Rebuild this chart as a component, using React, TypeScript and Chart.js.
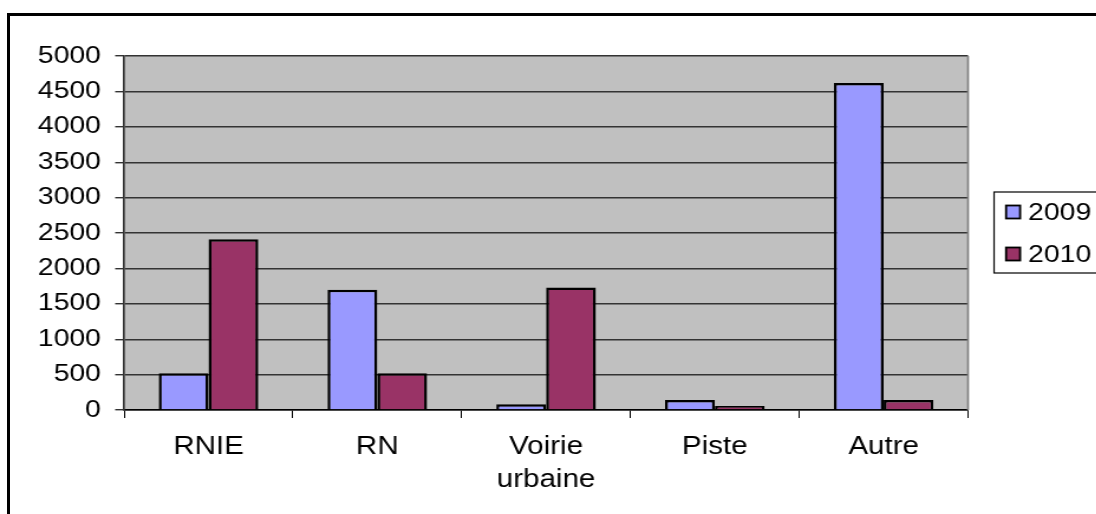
import { useEffect, useRef } from "react";
import { Chart, registerables } from "chart.js";

Chart.register(...registerables);

const categories: (string | string[])[] = ["RNIE", "RN", ["Voirie", "urbaine"], "Piste", "Autre"];
const values2009 = [520, 1700, 80, 140, 4620];
const values2010 = [2410, 520, 1730, 55, 140];
const seriesNames = ["2009", "2010"];
const seriesColors = ["#9999FF", "#993366"];
const yMin = 0;
const yMax = 5000;
const yStep = 500;

const S = 1.18; // horizontal text stretch of the original picture
const W = 1096 / S;
const FONT = "'Liberation Sans', Arial, sans-serif";

export default function App() {
  const ref = useRef<HTMLCanvasElement>(null);

  useEffect(() => {
    if (!ref.current) return;

    const bgPlugin = {
      id: "plotBg",
      beforeDraw(chart: any) {
        const { ctx, chartArea: a } = chart;
        ctx.save();
        ctx.fillStyle = "#C0C0C0";
        ctx.fillRect(a.left, a.top, a.right - a.left, a.bottom - a.top);
        ctx.restore();
      },
      afterDraw(chart: any) {
        const { ctx, chartArea: a } = chart;
        ctx.save();
        ctx.strokeStyle = "#808080";
        ctx.lineWidth = 2 / S;
        ctx.beginPath();
        ctx.moveTo(a.right, a.top);
        ctx.lineTo(a.right, a.bottom);
        ctx.stroke();

        // legend
        const bx = 993 / S;
        const by = 192;
        const bb = 273;
        ctx.strokeStyle = "#000";
        ctx.lineWidth = 1.2;
        ctx.strokeRect(bx, by, W + 10 - bx, bb - by);
        const rows = [212, 254];
        chart.data.datasets.forEach((ds: any, i: number) => {
          const cy = rows[i];
          const sx = 1005 / S;
          const sw = 14 / S;
          const sh = 13;
          ctx.fillStyle = ds.backgroundColor;
          ctx.fillRect(sx, cy - sh / 2, sw, sh);
          ctx.strokeStyle = "#000";
          ctx.lineWidth = 1.8;
          ctx.strokeRect(sx, cy - sh / 2, sw, sh);
          ctx.fillStyle = "#000";
          ctx.font = `24px ${FONT}`;
          ctx.textBaseline = "middle";
          ctx.textAlign = "left";
          ctx.fillText(ds.label, 1027 / S, cy + 1);
        });
        ctx.restore();
      },
    };

    const chart = new Chart(ref.current, {
      type: "bar",
      data: {
        labels: categories,
        datasets: [
          {
            label: seriesNames[0],
            data: values2009,
            backgroundColor: seriesColors[0],
            borderColor: "#000",
            borderWidth: 2.5,
          },
          {
            label: seriesNames[1],
            data: values2010,
            backgroundColor: seriesColors[1],
            borderColor: "#000",
            borderWidth: 2.5,
          },
        ],
      },
      options: {
        animation: false,
        responsive: true,
        maintainAspectRatio: false,
        layout: { padding: { left: 0, right: W - 967 / S, top: 56, bottom: 0 } },
        datasets: { bar: { categoryPercentage: 0.59, barPercentage: 1 } },
        plugins: { legend: { display: false }, tooltip: { enabled: false } },
        scales: {
          x: {
            offset: true,
            grid: {
              offset: true,
              drawOnChartArea: false,
              drawTicks: true,
              tickLength: 8,
              color: "#000",
              lineWidth: 1,
            },
            border: { display: true, color: "#000", width: 1.5 },
            ticks: {
              color: "#000",
              font: { family: FONT, size: 25, lineHeight: 1.32 },
              maxRotation: 0,
              autoSkip: false,
              padding: 13,
            },
            afterFit(scale: any) {
              scale.height = 514 - 410;
            },
          },
          y: {
            min: yMin,
            max: yMax,
            grid: {
              color: "#333",
              lineWidth: 1.4,
              tickLength: 9 / S,
              tickColor: "#333",
            },
            border: { display: true, color: "#333", width: 2 / S },
            ticks: {
              stepSize: yStep,
              autoSkip: false,
              color: "#000",
              font: { family: FONT, size: 24 },
              padding: 12,
              callback: (v: any) => String(v),
            },
            afterFit(scale: any) {
              scale.width = 124 / S;
            },
          },
        },
      },
      plugins: [bgPlugin],
    });

    return () => chart.destroy();
  }, []);

  return (
    <div
      style={{
        position: "fixed",
        left: 0,
        top: 0,
        width: 1096,
        height: 514,
        overflow: "hidden",
        background: "#fff",
      }}
    >
      <div
        style={{
          position: "absolute",
          left: 7,
          top: 13,
          width: 2000,
          height: 2000,
          borderLeft: "3px solid #000",
          borderTop: "3px solid #000",
        }}
      />
      <div
        style={{
          position: "absolute",
          left: 0,
          top: 0,
          width: W,
          height: 514,
          transform: `scaleX(${S})`,
          transformOrigin: "0 0",
        }}
      >
        <canvas ref={ref} />
      </div>
    </div>
  );
}
